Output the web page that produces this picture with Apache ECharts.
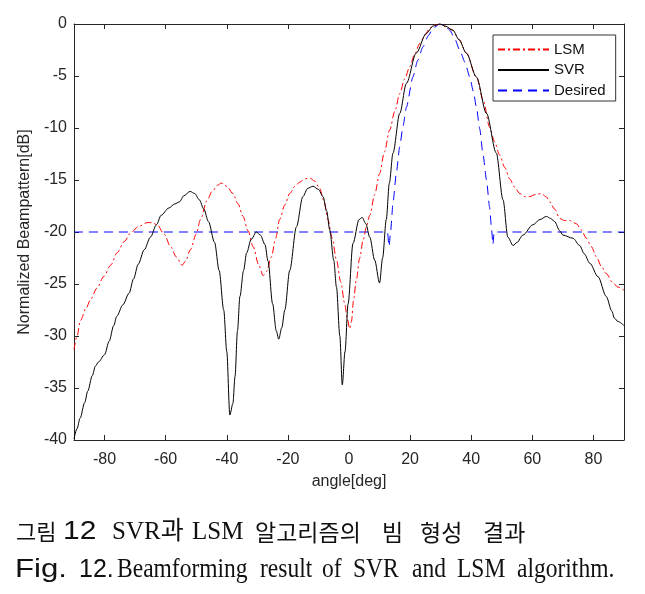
<!DOCTYPE html>
<html>
<head>
<meta charset="utf-8">
<script src="https://cdn.jsdelivr.net/npm/echarts@6/dist/echarts.min.js"></script>
<style>
html,body{margin:0;padding:0;background:#fff;}
#chart{width:645px;height:594px;}
</style>
</head>
<body>
<div id="chart"></div>
<script>
// ---- data ----
const seriesNames = ['LSM', 'SVR', 'Desired'];
const xTicks = [-80, -60, -40, -20, 0, 20, 40, 60, 80];
const yTicks = [0, -5, -10, -15, -20, -25, -30, -35, -40];

const lsmAngle = [-90,-89,-87.9,-86,-84.6,-82.5,-80.3,-78,-75.9,-73.5,-71.5,-69,-66.1,-64.5,-62.8,-60.5,-58.4,-56.5,-54.6,-53.5,-51.9,-50,-48.6,-46.5,-44.8,-43,-41.8,-40,-38,-36.3,-34.7,-33,-31.4,-29.5,-28.1,-27,-25.4,-24,-22.7,-21,-19.4,-17.7,-16.1,-14.5,-12.9,-11.2,-9.6,-8.2,-6.9,-5.5,-4.1,-2.7,-1.4,-0.5,0.2,0.8,1.5,2.4,3.5,4.6,5.7,6.8,8.4,10,11.6,13.3,15,16.6,18.2,19.9,21.5,23.1,24.8,26.4,28,29.7,32,34,36,38.4,41.7,44,46,47.6,49.3,51,52.6,54.2,55.9,57.5,59.1,61,63,64.5,65.7,67.3,69,70.5,72.2,74.4,76,77.7,79.3,81,82.6,84.2,86.4,88,90];
const lsmDb = [-31.3,-30.0,-28.5,-27.3,-26.5,-25.4,-24.3,-23.2,-22.0,-20.9,-20.1,-19.5,-19.1,-19.1,-19.3,-20.2,-21.4,-22.4,-23.2,-22.8,-21.7,-20.2,-18.8,-17.0,-16.1,-15.5,-15.3,-15.6,-16.3,-17.3,-18.5,-19.9,-21.4,-23.2,-24.2,-23.8,-22.4,-20.6,-18.8,-17.4,-16.3,-15.6,-15.2,-14.9,-14.8,-15.1,-15.8,-17.0,-18.8,-20.6,-22.7,-24.8,-26.9,-28.4,-29.3,-28.6,-26.5,-24.6,-22.5,-20.8,-19.5,-18.4,-16.4,-14.4,-12.3,-10.2,-8.4,-6.7,-5.3,-4.1,-2.9,-1.9,-1.1,-0.4,-0.1,0,-0.3,-0.6,-1.5,-2.8,-5.1,-7.4,-9.9,-11.3,-12.6,-13.8,-14.9,-15.7,-16.3,-16.6,-16.6,-16.4,-16.3,-16.6,-17.1,-17.8,-18.7,-18.9,-18.9,-19.2,-19.8,-20.6,-21.4,-22.4,-23.3,-24.0,-24.9,-25.3,-25.6];

const svrAngle = [-90,-89,-88,-86.5,-85.5,-84,-83,-82,-80,-78.5,-77,-76,-74,-72,-70.5,-69,-67,-65,-63,-61.5,-59,-57,-55.5,-54,-52,-50.5,-49,-47.5,-46,-44,-42.5,-41,-40,-39,-38,-37.3,-36.5,-35.7,-34.5,-33.5,-32,-30.3,-29,-27.5,-26.5,-25,-23.8,-23,-22,-21,-19.4,-17.2,-15.1,-13.5,-11.8,-10,-8.5,-7.3,-6.3,-5,-4.1,-3,-2.2,-1.3,-0.3,1.3,3.3,4.3,5.5,6.8,8.4,10,11,12.2,13.2,14.4,16.6,18.8,22,25.3,27.5,29.7,31.5,34,36,38.4,41.7,45,48.2,50.4,52,53.7,55,56.9,60.2,62.5,64.6,66,67.3,69,70,73.3,75.5,77,78.8,81.5,84.2,86,86.9,88,90];
const svrDb = [-39.9,-38.9,-37.9,-36.4,-35.3,-33.8,-32.9,-32.5,-31.8,-30.5,-29.0,-28.1,-27.0,-25.9,-24.5,-23.1,-21.7,-20.5,-19.3,-18.4,-17.7,-17.3,-17.1,-16.5,-16.1,-16.3,-16.9,-17.8,-19.0,-21.0,-23.7,-27.5,-31.5,-37.6,-36.5,-33.9,-29.5,-26.2,-23.7,-22.0,-20.7,-20.0,-20.3,-21.2,-22.8,-26.9,-29.5,-30.3,-29.2,-27.5,-23.7,-19.5,-16.6,-15.8,-15.6,-15.9,-16.6,-18.0,-19.8,-22.7,-25.3,-30.0,-34.7,-31.5,-26.9,-21.1,-18.8,-18.6,-19.2,-20.5,-22.7,-24.9,-22.5,-18.8,-15.3,-12.4,-8.6,-5.7,-2.8,-0.9,-0.2,0,-0.2,-0.6,-1.5,-2.8,-5.1,-8.6,-12.4,-16.9,-20.5,-21.3,-21.0,-20.3,-19.3,-18.8,-18.5,-18.7,-19.0,-19.9,-20.3,-20.6,-21.3,-22.1,-23.0,-24.3,-26.2,-27.6,-28.3,-28.6,-29.0];

const desiredAngle = [-90,12.6,13.1,13.6,14.4,15.5,16.6,17.7,18.8,20.9,22.5,24.2,26,27.5,29.7,31.5,33,34.6,36.2,38,39.5,40.7,41.7,42.8,43.8,45,46,46.6,47.1,47.5,90];
const desiredDb = [-20,-20,-21.4,-20.0,-17.2,-14.3,-11.8,-9.8,-8.0,-5.1,-3.5,-2.2,-1.1,-0.4,0,-0.2,-0.6,-1.4,-2.5,-3.7,-5.1,-6.5,-8.0,-10.1,-12.4,-15.0,-17.6,-19.5,-21.2,-20.0,-20];

const captionKo = ['그림', '12', 'SVR과', 'LSM', '알고리즘의', '빔', '형성', '결과'];
const captionEn = ['Fig.', '12.', 'Beamforming', 'result', 'of', 'SVR', 'and', 'LSM', 'algorithm.'];

// ---- build ----
const zip = (a, b) => a.map((v, i) => [v, b[i]]);
const axisColor = '#262626';
const sans = "'Liberation Sans', Arial, sans-serif";

const koX = [16, 63, 112, 192, 255, 382, 420, 483];
const koFont = ["'Noto Sans CJK KR'", sans, "'Liberation Serif', 'Noto Sans CJK KR'", "'Liberation Serif'", "'Noto Sans CJK KR'", "'Noto Sans CJK KR'", "'Noto Sans CJK KR'", "'Noto Sans CJK KR'"];
const koSize = [22, 26, 25, 25, 23, 23, 23, 23];
const koScale = [1, 1.15, 1, 1, 1, 1, 1, 1];
const enX = [15, 79, 117, 260, 322, 353, 412, 457, 517];
const enFont = [sans, sans, "'Liberation Serif'", "'Liberation Serif'", "'Liberation Serif'", "'Liberation Serif'", "'Liberation Serif'", "'Liberation Serif'", "'Liberation Serif'"];
const enSize = [26, 25, 28, 28, 28, 28, 28, 28, 28];
const enScale = [1.2, 1, 0.84, 0.84, 0.84, 0.84, 0.84, 0.84, 0.84];

const graphics = [];
captionKo.forEach((t, i) => graphics.push({
  type: 'text', x: koX[i], y: 532, scaleX: koScale[i], silent: true,
  style: { text: t, fill: '#111', font: koSize[i] + 'px ' + koFont[i], textVerticalAlign: 'middle', verticalAlign: 'middle' }
}));
captionEn.forEach((t, i) => graphics.push({
  type: 'text', x: enX[i], y: 570, scaleX: enScale[i], silent: true,
  style: { text: t, fill: '#111', font: enSize[i] + 'px ' + enFont[i], textVerticalAlign: 'middle', verticalAlign: 'middle' }
}));

const chart = echarts.init(document.getElementById('chart'), null, { renderer: 'canvas' });
const xBase = {
  type: 'value', min: -90, max: 90,
  axisLine: { show: true, onZero: false, lineStyle: { color: axisColor, width: 1 } },
  axisTick: { show: true, inside: true, length: 5, customValues: xTicks, lineStyle: { color: axisColor } },
  splitLine: { show: false }
};
const yBase = {
  type: 'value', min: -40, max: 0, interval: 5,
  axisLine: { show: true, onZero: false, lineStyle: { color: axisColor, width: 1 } },
  axisTick: { show: true, inside: true, length: 5, lineStyle: { color: axisColor } },
  splitLine: { show: false }
};

chart.setOption({
  animation: false,
  backgroundColor: '#fff',
  grid: { left: 74, right: 21, top: 24, bottom: 154, containLabel: false, outerBoundsMode: 'none' },
  legend: {
    data: seriesNames, orient: 'vertical', left: 493, top: 35,
    backgroundColor: '#fff', borderColor: '#333', borderWidth: 1,
    padding: [7, 10, 3, 4], itemGap: 5.5, itemWidth: 51, itemHeight: 14,
    itemStyle: { opacity: 0 },
    textStyle: { fontFamily: sans, fontSize: 15, color: '#111' },
    selectedMode: false
  },
  xAxis: [
    Object.assign({}, xBase, {
      position: 'bottom',
      name: 'angle[deg]', nameLocation: 'middle', nameGap: 34,
      nameTextStyle: { fontFamily: sans, fontSize: 16, color: axisColor },
      axisLabel: { show: true, margin: 12, customValues: xTicks, fontFamily: sans, fontSize: 16, color: axisColor }
    }),
    Object.assign({}, xBase, { position: 'top', axisLabel: { show: false } })
  ],
  yAxis: [
    Object.assign({}, yBase, {
      position: 'left',
      name: 'Normalized Beampattern[dB]', nameLocation: 'middle', nameGap: 35,
      nameTextStyle: { fontFamily: sans, fontSize: 16, color: axisColor },
      axisLabel: { show: true, margin: 7, fontFamily: sans, fontSize: 16, color: axisColor }
    }),
    Object.assign({}, yBase, { position: 'right', axisLabel: { show: false } })
  ],
  series: [
    {
      name: seriesNames[0], type: 'line', data: zip(lsmAngle, lsmDb), symbol: 'none',
      smooth: 0.3, smoothMonotone: 'x', color: '#ff0000',
      lineStyle: { color: '#ff0000', width: 1, type: [7, 3, 2, 3] }, z: 3
    },
    {
      name: seriesNames[1], type: 'line', data: zip(svrAngle, svrDb), symbol: 'none',
      smooth: 0.3, smoothMonotone: 'x', color: '#000000',
      lineStyle: { color: '#000000', width: 1, type: 'solid' }, z: 4
    },
    {
      name: seriesNames[2], type: 'line', data: zip(desiredAngle, desiredDb), symbol: 'none',
      smooth: 0.2, smoothMonotone: 'x', color: '#0000ff',
      lineStyle: { color: '#0000ff', width: 1, type: [9, 6] }, z: 2
    }
  ],
  graphic: graphics
});
</script>
</body>
</html>
